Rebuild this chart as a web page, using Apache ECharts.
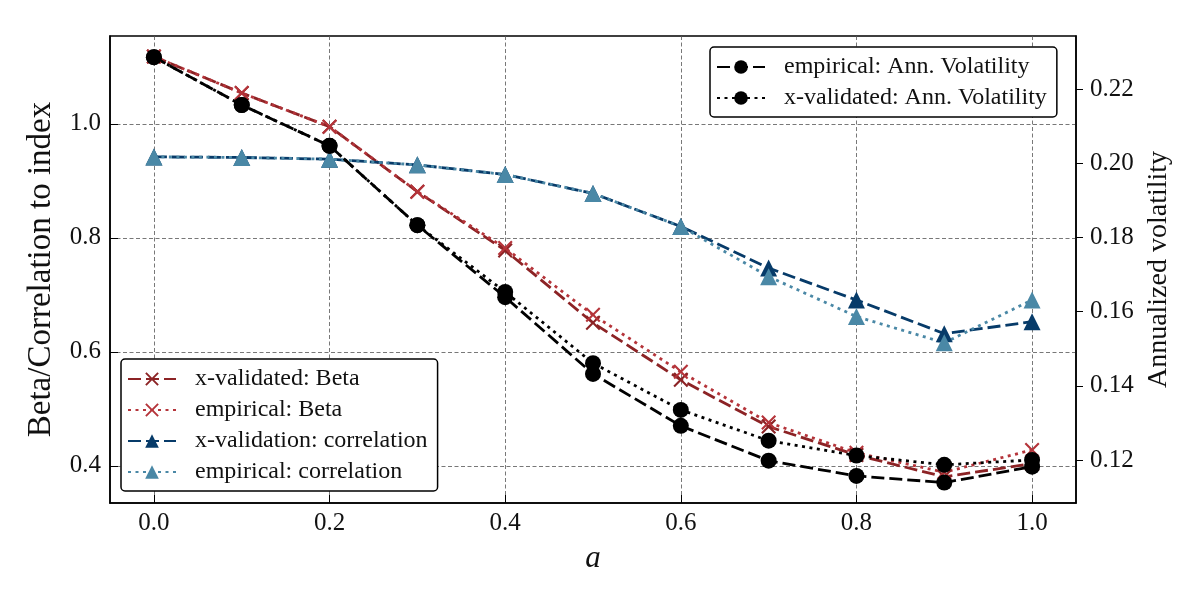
<!DOCTYPE html>
<html>
<head>
<meta charset="utf-8">
<script src="https://cdn.jsdelivr.net/npm/echarts@6/dist/echarts.min.js"></script>
<style>
  html, body { margin: 0; padding: 0; background: #fff; }
  #chart { width: 1200px; height: 600px; }
</style>
</head>
<body>
<div id="chart"></div>
<script>
const aVals = [0.0, 0.1, 0.2, 0.3, 0.4, 0.5, 0.6, 0.7, 0.8, 0.9, 1.0]

// left axis
const betaXval = [1.118, 1.054, 0.995, 0.881, 0.778, 0.651, 0.551, 0.469, 0.419, 0.381, 0.404]
const betaEmp = [1.118, 1.054, 0.995, 0.881, 0.782, 0.665, 0.565, 0.476, 0.423, 0.389, 0.428]
const corrXval = [0.942, 0.941, 0.938, 0.928, 0.911, 0.878, 0.820, 0.747, 0.691, 0.632, 0.653]
const corrEmp = [0.942, 0.941, 0.938, 0.928, 0.911, 0.878, 0.820, 0.732, 0.662, 0.616, 0.691]

// right axis
const volEmp = [0.2286, 0.2157, 0.2047, 0.1833, 0.1639, 0.1432, 0.1292, 0.1198, 0.1157, 0.1139, 0.1182]
const volXval = [0.2286, 0.2157, 0.2047, 0.1833, 0.1653, 0.1461, 0.1335, 0.1252, 0.1212, 0.1187, 0.1200]

const xTicks = [0.0, 0.2, 0.4, 0.6, 0.8, 1.0]
const leftTicks = [0.4, 0.6, 0.8, 1.0]
const rightTicks = [0.12, 0.14, 0.16, 0.18, 0.20, 0.22]

const FONT = 'Liberation Serif'
const DASH = [13, 5]
const DOT = [3, 4.5]
const crossPath = 'path://M1,0 L5,4 L9,0 L10,1 L6,5 L10,9 L9,10 L5,6 L1,10 L0,9 L4,5 L0,1 Z'

const pairs = vals => aVals.map((a, i) => [a, vals[i]])

const mkSeries = (name, vals, yIdx, color, dash, symbol, size) => ({
  name,
  type: 'line',
  yAxisIndex: yIdx,
  data: pairs(vals),
  symbol,
  symbolSize: size,
  showAllSymbol: true,
  lineStyle: { color, width: 2.8, type: dash },
  itemStyle: { color },
  emphasis: { disabled: true },
  animation: false
})

const chart = echarts.init(document.getElementById('chart'), null, { renderer: 'canvas' })

const legendBox = {
  orient: 'vertical',
  backgroundColor: '#fff',
  borderColor: '#000',
  borderWidth: 1.5,
  borderRadius: 4,
  itemWidth: 48,
  itemHeight: 17,
  itemGap: 7,
  selectedMode: false,
  textStyle: { fontFamily: FONT, fontSize: 24, color: '#111', lineHeight: 24, padding: [0, 0, 0, 14] }
}

const tickFont = { fontFamily: FONT, fontSize: 25, color: '#111' }
const gridLine = { show: true, lineStyle: { color: '#555', width: 0.8, type: [4, 2.5] } }

chart.setOption({
  backgroundColor: '#fff',
  grid: {
    left: 110, right: 124, top: 36, bottom: 97,
    show: true, borderColor: '#000', borderWidth: 1.5
  },
  legend: [
    Object.assign({}, legendBox, {
      data: ['empirical: Ann. Volatility', 'x-validated: Ann. Volatility'],
      left: 710, top: 47, padding: [8, 10, 7, 6]
    }),
    Object.assign({}, legendBox, {
      data: ['x-validated: Beta', 'empirical: Beta', 'x-validation: correlation', 'empirical: correlation'],
      left: 121, top: 359, padding: [8, 10, 7, 6]
    })
  ],
  xAxis: {
    type: 'value',
    min: -0.05,
    max: 1.05,
    name: 'a',
    nameLocation: 'middle',
    nameGap: 40,
    nameTextStyle: { fontFamily: FONT, fontStyle: 'italic', fontSize: 31, color: '#111' },
    axisLine: { show: true, onZero: false, lineStyle: { color: '#000', width: 1.5 } },
    axisTick: { show: true, inside: true, length: 8, customValues: xTicks, lineStyle: { color: '#000' } },
    axisLabel: Object.assign({ customValues: xTicks, margin: 8, formatter: v => v.toFixed(1) }, tickFont),
    splitLine: gridLine
  },
  yAxis: [
    {
      type: 'value',
      position: 'left',
      min: 0.335,
      max: 1.154,
      name: 'Beta/Correlation to index',
      nameLocation: 'middle',
      nameGap: 52,
      nameTextStyle: { fontFamily: FONT, fontSize: 33, color: '#111' },
      axisLine: { show: true, onZero: false, lineStyle: { color: '#000', width: 1.5 } },
      axisTick: { show: true, inside: true, length: 8, customValues: leftTicks, lineStyle: { color: '#000' } },
      axisLabel: Object.assign({ customValues: leftTicks, margin: 9, formatter: v => v.toFixed(1) }, tickFont),
      splitLine: gridLine
    },
    {
      type: 'value',
      position: 'right',
      min: 0.1084,
      max: 0.2343,
      name: 'Annualized volatility',
      nameLocation: 'middle',
      nameGap: 68,
      nameRotate: 90,
      nameTextStyle: { fontFamily: FONT, fontSize: 28, color: '#111' },
      axisLine: { show: true, onZero: false, lineStyle: { color: '#000', width: 1.5 } },
      axisTick: { show: true, inside: false, length: 7, customValues: rightTicks, lineStyle: { color: '#000' } },
      axisLabel: Object.assign({ customValues: rightTicks, margin: 14, formatter: v => v.toFixed(2) }, tickFont),
      splitLine: { show: false }
    }
  ],
  series: [
    mkSeries('x-validated: Beta', betaXval, 0, '#8c2325', DASH, crossPath, 15),
    mkSeries('empirical: Beta', betaEmp, 0, '#b5343a', DOT, crossPath, 15),
    mkSeries('x-validation: correlation', corrXval, 0, '#073b69', DASH, 'triangle', 17),
    mkSeries('empirical: correlation', corrEmp, 0, '#4a88a6', DOT, 'triangle', 17),
    mkSeries('empirical: Ann. Volatility', volEmp, 1, '#000', DASH, 'circle', 16),
    mkSeries('x-validated: Ann. Volatility', volXval, 1, '#000', DOT, 'circle', 16)
  ]
})
</script>
</body>
</html>
